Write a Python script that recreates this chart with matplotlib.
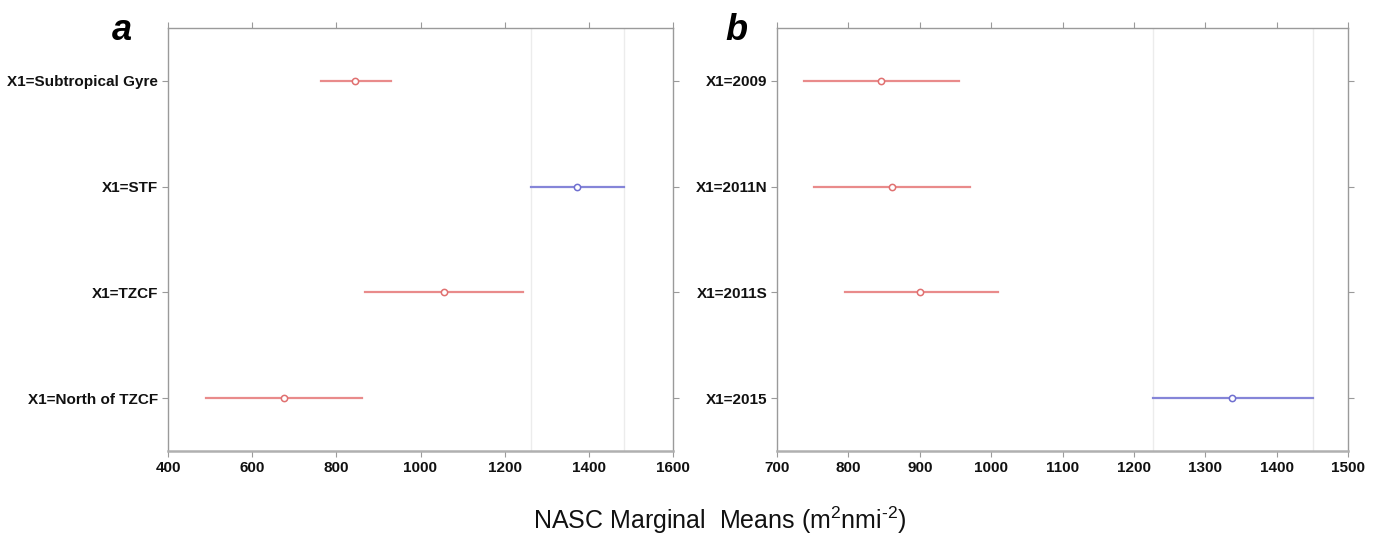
import matplotlib
matplotlib.use("Agg")
import matplotlib.pyplot as plt

# Panel a data
cats_a = ["X1=Subtropical Gyre", "X1=STF", "X1=TZCF", "X1=North of TZCF"]
mean_a = [845, 1373, 1056, 675]
low_a = [764, 1263, 868, 490]
high_a = [930, 1483, 1244, 860]
color_a = ["red", "blue", "red", "red"]
xticks_a = [400, 600, 800, 1000, 1200, 1400, 1600]

# Panel b data
cats_b = ["X1=2009", "X1=2011N", "X1=2011S", "X1=2015"]
mean_b = [846, 861, 901, 1338]
low_b = [738, 752, 795, 1227]
high_b = [955, 971, 1009, 1451]
color_b = ["red", "red", "red", "blue"]
xticks_b = [700, 800, 900, 1000, 1100, 1200, 1300, 1400, 1500]

COLS = {"red": "#e98b8b", "blue": "#8585d8"}
EDGE = {"red": "#e07070", "blue": "#6f6fd0"}
SPINE = "#9a9a9a"

plt.rcParams['font.family'] = ['Liberation Sans', 'DejaVu Sans']
plt.rcParams['mathtext.fontset'] = 'custom'
plt.rcParams['mathtext.rm'] = 'Liberation Sans'
plt.rcParams['mathtext.it'] = 'Liberation Sans:italic'
plt.rcParams['mathtext.bf'] = 'Liberation Sans:bold'

fig = plt.figure(figsize=(13.81, 5.39), dpi=100)
axa = fig.add_axes([168/1381, 1-451/539, 505/1381, 423/539])
axb = fig.add_axes([777/1381, 1-451/539, 571/1381, 423/539])


def draw(ax, cats, mean, low, high, colors, xticks, ref_idx):
    n = len(cats)
    ys = list(range(n))
    # reference lines at CI bounds of the distinct group
    ax.axvline(low[ref_idx], color="#ececec", lw=1, zorder=0)
    ax.axvline(high[ref_idx], color="#ececec", lw=1, zorder=0)
    for y, m, lo, hi, c in zip(ys, mean, low, high, colors):
        ax.plot([lo, hi], [y, y], color=COLS[c], lw=1.6, zorder=2)
        ax.plot([m], [y], marker="o", ms=4.5, mfc="white", mec=EDGE[c], mew=1.1, zorder=3)
    ax.set_yticks(ys)
    ax.set_yticklabels(cats, fontsize=11, fontweight="bold")
    ax.set_ylim(n - 0.5, -0.5)
    ax.set_xticks(xticks)
    ax.set_xticklabels([str(t) for t in xticks], fontsize=11, fontweight="bold")
    ax.set_xlim(xticks[0], xticks[-1])
    for s in ax.spines.values():
        s.set_color(SPINE)
        s.set_linewidth(1.0)
    ax.spines["bottom"].set_linewidth(1.8)
    ax.spines["bottom"].set_color("#b0b0b0")
    ax.tick_params(axis="both", which="both", direction="out", length=4, width=0.8,
                   color=SPINE, top=True, right=True, labeltop=False, labelright=False,
                   pad=3, labelcolor="#111111")


draw(axa, cats_a, mean_a, low_a, high_a, color_a, xticks_a, 1)
draw(axb, cats_b, mean_b, low_b, high_b, color_b, xticks_b, 3)

fig.text(122/1381, 1-30/539, "a", fontsize=26, fontweight="bold", fontstyle="italic",
         ha="center", va="center")
fig.text(736/1381, 1-30/539, "b", fontsize=26, fontweight="bold", fontstyle="italic",
         ha="center", va="center")

fig.text(720/1381, 1-520/539, "NASC Marginal  Means (m$^{2}$nmi$^{\\text{-}2}$)", fontsize=18,
         ha="center", va="center", color="#111111")

fig.savefig("out.png", dpi=100, facecolor="white")
